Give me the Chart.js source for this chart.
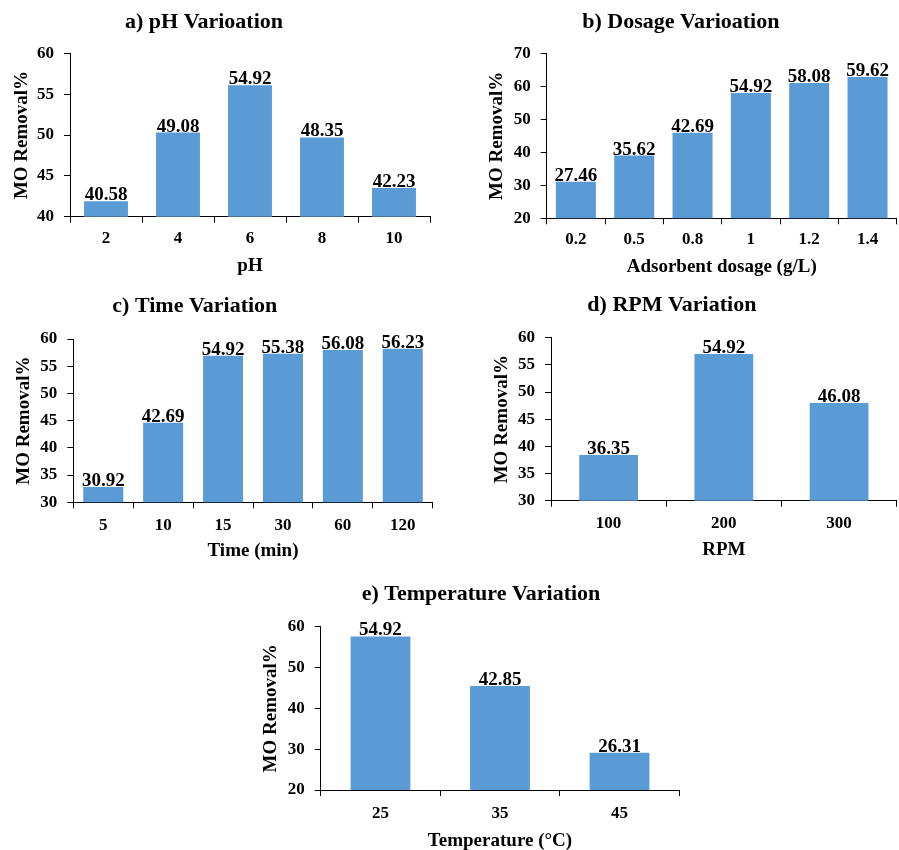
<!DOCTYPE html>
<html><head><meta charset="utf-8">
<script src="https://cdn.jsdelivr.net/npm/chart.js@4.4.1/dist/chart.umd.min.js"></script>
<style>
html,body{margin:0;padding:0;background:#fff;width:899px;height:850px;overflow:hidden;position:relative;}
canvas{position:absolute;}
</style></head><body>
<canvas id="cA"></canvas>
<canvas id="cB"></canvas>
<canvas id="cC"></canvas>
<canvas id="cD"></canvas>
<canvas id="cE"></canvas>
<script>
const FONT = '"Liberation Serif","Times New Roman",serif';

// a) pH variation
const phCategories = ['2', '4', '6', '8', '10'];
const phBarValues = [41.9, 50.3, 56.1, 49.7, 43.5];
const phLabels = ['40.58', '49.08', '54.92', '48.35', '42.23'];

// b) Dosage variation
const dosageCategories = ['0.2', '0.5', '0.8', '1', '1.2', '1.4'];
const dosageBarValues = [31.1, 39.0, 45.9, 58.0, 61.0, 62.8];
const dosageLabels = ['27.46', '35.62', '42.69', '54.92', '58.08', '59.62'];

// c) Time variation
const timeCategories = ['5', '10', '15', '30', '60', '120'];
const timeBarValues = [32.8, 44.6, 56.9, 57.3, 58.0, 58.2];
const timeLabels = ['30.92', '42.69', '54.92', '55.38', '56.08', '56.23'];

// d) RPM variation
const rpmCategories = ['100', '200', '300'];
const rpmBarValues = [38.4, 57.0, 48.0];
const rpmLabels = ['36.35', '54.92', '46.08'];

// e) Temperature variation
const tempCategories = ['25', '35', '45'];
const tempBarValues = [57.6, 45.5, 29.1];
const tempLabels = ['54.92', '42.85', '26.31'];

const barLabelPlugin = {
  id: 'barLabels',
  afterDatasetsDraw(chart, args, opts) {
    const ctx = chart.ctx;
    const labels = opts.labels || [];
    const meta = chart.getDatasetMeta(0);
    ctx.save();
    ctx.font = 'bold 19px ' + FONT;
    ctx.fillStyle = '#000';
    ctx.textAlign = 'center';
    ctx.textBaseline = 'alphabetic';
    meta.data.forEach((bar, i) => {
      ctx.fillText(labels[i], bar.x, bar.y - 1);
    });
    ctx.restore();
  }
};

const titleShiftPlugin = {
  id: 'titleShift',
  afterLayout(chart, args, opts) {
    const t = chart.titleBlock;
    if (t && opts.dx) { t.left += opts.dx; t.right += opts.dx; }
  }
};

function makeChart(id, g, cats, values, labels, yMin, yMax, yStep, titleText, xTitle) {
  const c = document.getElementById(id);
  c.width = g.W; c.height = g.H;
  c.style.left = g.L + 'px'; c.style.top = g.T + 'px';
  c.style.width = g.W + 'px'; c.style.height = g.H + 'px';
  new Chart(c, {
    type: 'bar',
    data: {
      labels: cats,
      datasets: [{
        data: values,
        backgroundColor: '#5B9BD5',
        borderWidth: 0,
        categoryPercentage: 1,
        barPercentage: g.bp
      }]
    },
    options: {
      responsive: false,
      animation: false,
      devicePixelRatio: 1,
      layout: { padding: { left: 0, right: g.pr, top: 0, bottom: 0 } },
      plugins: {
        legend: { display: false },
        tooltip: { enabled: false },
        title: {
          display: true, text: titleText, color: '#000',
          font: { family: FONT, size: 22, weight: 'bold', lineHeight: 1.2 },
          padding: { top: g.pt, bottom: g.pb }
        },
        barLabels: { labels: labels },
        titleShift: { dx: g.dx || 0 }
      },
      scales: {
        x: {
          grid: { display: true, drawOnChartArea: false, drawTicks: true, tickLength: 6, color: '#000', lineWidth: 1, offset: true },
          border: { display: true, color: '#000', width: 1 },
          ticks: { color: '#000', font: { family: FONT, size: 17, weight: 'bold', lineHeight: 1.2 }, padding: g.xtp, maxRotation: 0, autoSkip: false },
          title: { display: true, text: xTitle, color: '#000', font: { family: FONT, size: 19, weight: 'bold', lineHeight: 1.2 }, padding: { top: 0, bottom: 0 } },
          afterFit: s => { s.height = g.xH; }
        },
        y: {
          min: yMin, max: yMax,
          grid: { display: true, drawOnChartArea: false, drawTicks: true, tickLength: 6, color: '#000', lineWidth: 1 },
          border: { display: true, color: '#000', width: 1 },
          ticks: { stepSize: yStep, color: '#000', font: { family: FONT, size: 17, weight: 'bold', lineHeight: 1.2 }, padding: 10 },
          title: { display: true, text: 'MO Removal%', color: '#000', font: { family: FONT, size: 19, weight: 'bold', lineHeight: 1.2 }, padding: { top: g.yp, bottom: 0 } },
          afterFit: s => { s.width = g.yW; }
        }
      }
    },
    plugins: [barLabelPlugin, titleShiftPlugin]
  });
}

makeChart('cA', { L: -22, T: 0, W: 454, H: 277, pr: 2, yW: 92, xH: 60.3, pt: 9.4, pb: 17.5, xtp: 6, yp: 32.2, bp: 0.61 },
  phCategories, phBarValues, phLabels, 40, 60, 5, 'a) pH Varioation', 'pH');
makeChart('cB', { L: 465, T: 0, W: 434, H: 278, pr: 2.3, yW: 81.7, xH: 59.7, pt: 9.3, pb: 17.6, xtp: 5.5, yp: 20.5, bp: 0.686 },
  dosageCategories, dosageBarValues, dosageLabels, 20, 70, 10, 'b) Dosage Varioation', 'Adsorbent dosage (g/L)');
makeChart('cC', { L: -43, T: 290, W: 478, H: 272, pr: 2.3, yW: 116.3, xH: 59.7, pt: 3.4, pb: 19.2, xtp: 7.5, yp: 55.2, bp: 0.668 },
  timeCategories, timeBarValues, timeLabels, 30, 60, 5, 'c) Time Variation', 'Time (min)');
makeChart('cD', { L: 447, T: 290, W: 452, H: 271, pr: 2.3, yW: 104, xH: 60.3, pt: 2.1, pb: 19.2, xtp: 6.6, yp: 43.6, bp: 0.51 },
  rpmCategories, rpmBarValues, rpmLabels, 30, 60, 5, 'd) RPM Variation', 'RPM');
makeChart('cE', { L: 255, T: 570, W: 427, H: 282, pr: 2.7, yW: 65.7, xH: 62, pt: 11.1, pb: 19.2, xtp: 7.1, yp: 4.6, bp: 0.5, dx: 13.85 },
  tempCategories, tempBarValues, tempLabels, 20, 60, 10, 'e) Temperature Variation', 'Temperature (°C)');
</script>
</body></html>
